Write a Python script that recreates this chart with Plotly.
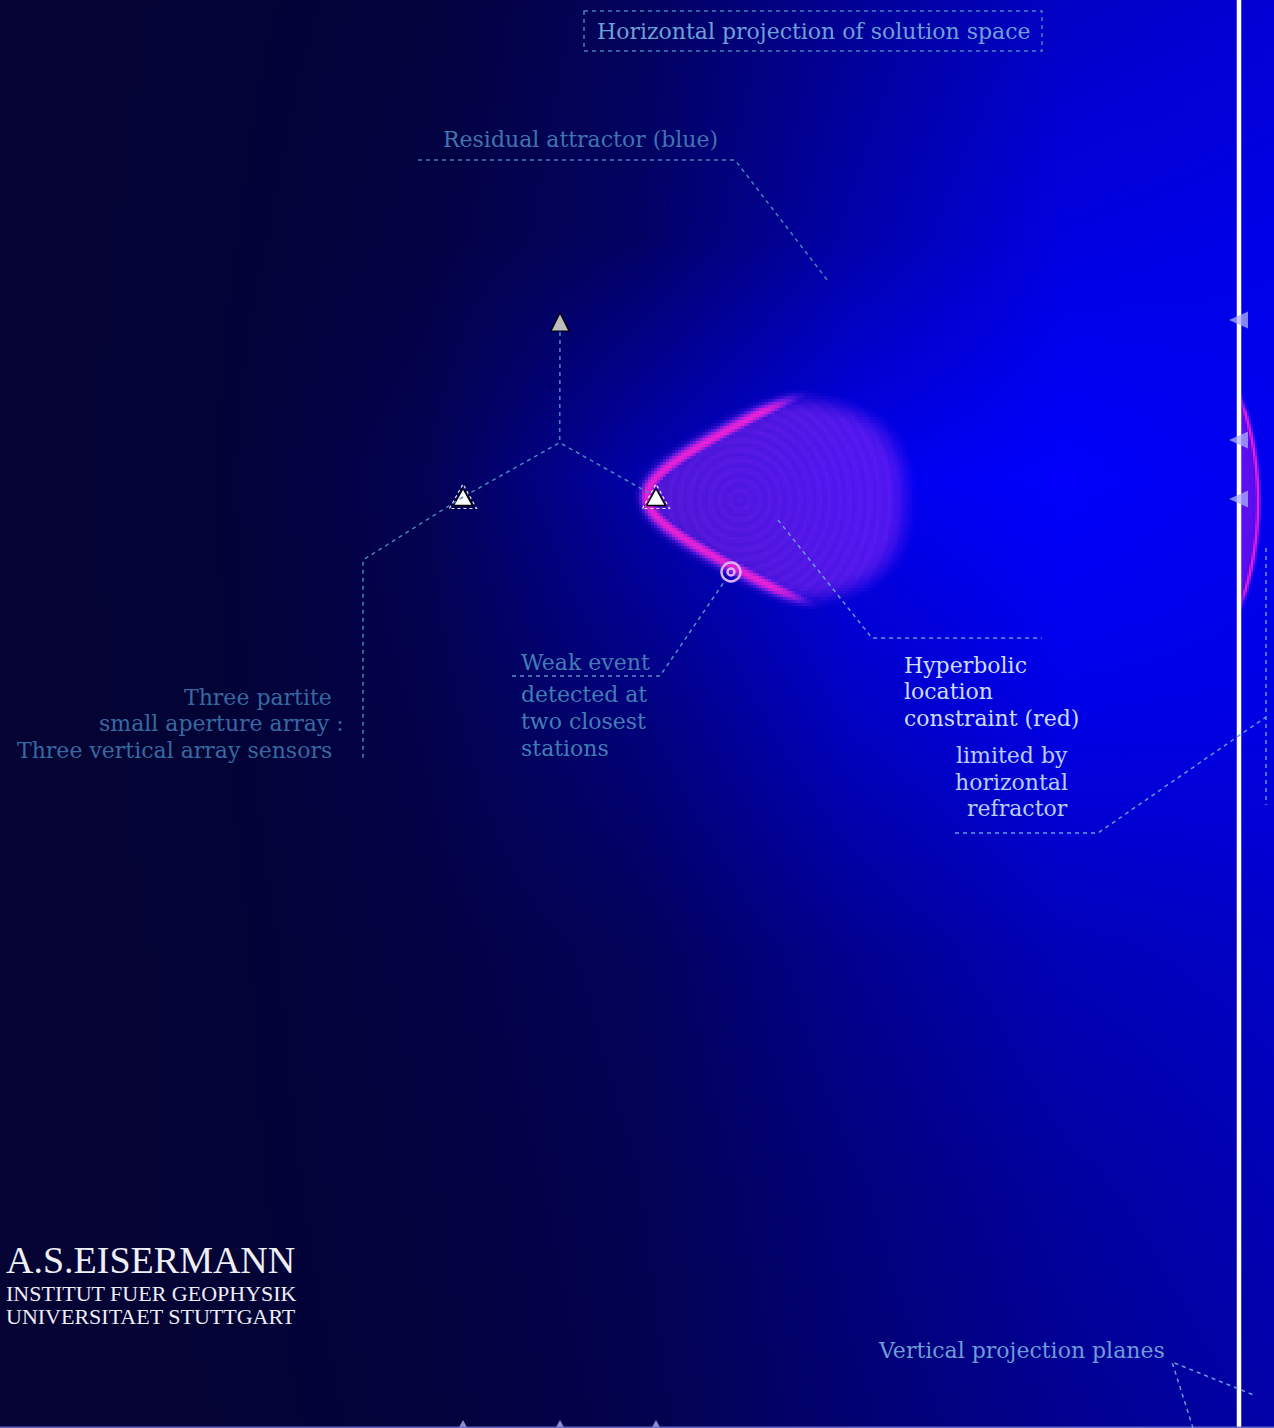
import numpy as np
import plotly.graph_objects as go

W, H = 1274, 1428

# ---------------- data ----------------
# stations of the three-partite array (horizontal plane)
station_x = [463, 656, 560]
station_y = [497, 497, 322]
# vertical array sensors, projected on the vertical plane
plane_x = 1239
sensor_plane_y = [320, 440, 499]
# weak event epicentre
event_x = [731]
event_y = [572]
# hyperbolic constraint: distance difference between the two closest stations
delta_d = 175
# background residual level (blue intensity) sampled on a coarse grid
bg_x = [0, 212, 425, 637, 850, 1062, 1274]
bg_y = [0, 238, 476, 714, 952, 1190, 1428]
bg_blue = [
    [52, 55, 64, 95, 150, 198, 212],
    [52, 56, 70, 102, 170, 225, 232],
    [52, 57, 86, 172, 236, 252, 238],
    [52, 56, 78, 125, 195, 230, 228],
    [52, 55, 70, 92, 145, 185, 198],
    [52, 55, 66, 85, 125, 160, 182],
    [52, 54, 63, 80, 115, 145, 168],
]

fig = go.Figure()

# background residual field
fig.add_trace(go.Heatmap(
    x=bg_x, y=bg_y, z=bg_blue, zmin=40, zmax=255, zsmooth="best",
    colorscale=[[0, "rgb(6,5,42)"], [0.1, "rgb(3,2,58)"], [1, "rgb(0,0,255)"]],
    showscale=False, hoverinfo="skip"))

# hyperbolic location constraint (horizontal projection)
ax, ay = station_x[0], station_y[0]
bx, by = station_x[1], station_y[1]
gx = np.arange(630, 945, 3) + 1.5
gy = np.arange(372, 633, 3) + 1.5
X, Y = np.meshgrid(gx, gy)
d1 = np.hypot(X - ax, Y - ay)
d2 = np.hypot(X - bx, Y - by)
h = d1 - d2 - delta_d
grad = np.hypot((X - ax) / d1 - (X - bx) / d2, (Y - ay) / d1 - (Y - by) / d2)
hp = h / np.maximum(grad, 0.05)
E = (np.maximum(X - 780, 0) / 140) ** 2.5 + (np.abs(Y - 500) / 113) ** 2.5
env = np.clip((1 - E) / 0.5, 0, 1)
env = env * env * (3 - 2 * env)
band = np.exp(-(hp / 7.0) ** 2)
fill = 0.45 / (1 + np.exp(-hp / 3.0))
rr = np.hypot(X - 740, Y - 500)
fill = fill * (0.95 + 0.05 * np.cos(2 * np.pi * rr / 10))
Z = np.maximum(band * env, fill * env)
fig.add_trace(go.Heatmap(
    x=gx, y=gy, z=Z, zmin=0, zmax=1, zsmooth=False,
    colorscale=[[0, "rgba(120,30,240,0)"], [0.45, "rgba(140,40,245,0.62)"],
                [0.7, "rgba(205,35,230,0.8)"], [1, "rgba(245,35,215,0.95)"]],
    showscale=False, hoverinfo="skip"))

# constraint on the vertical projection plane
cx, cy, cr = 943, 502, 315
gx2 = np.arange(1241, 1275, 2) + 1
gy2 = np.arange(380, 628, 2) + 1
X2, Y2 = np.meshgrid(gx2, gy2)
r2 = np.hypot(X2 - cx, Y2 - cy)
band2 = np.exp(-((r2 - cr) / 2.5) ** 2)
fill2 = 0.5 / (1 + np.exp((r2 - cr) / 1.5))
env2 = np.clip((1 - (np.abs(Y2 - cy) / 112) ** 2) / 0.35, 0, 1)
Z2 = np.maximum(band2, fill2) * env2
fig.add_trace(go.Heatmap(
    x=gx2, y=gy2, z=Z2, zmin=0, zmax=1, zsmooth=False,
    colorscale=[[0, "rgba(120,30,240,0)"], [0.5, "rgba(130,20,240,0.7)"],
                [1, "rgba(250,30,215,0.97)"]],
    showscale=False, hoverinfo="skip"))

# vertical projection plane (white edge)
fig.add_trace(go.Scatter(
    x=[plane_x, plane_x], y=[0, H], mode="lines",
    line=dict(color="white", width=4.5), hoverinfo="skip", showlegend=False))


def tri_up(xs, ys, hw, top, bot):
    px, py = [], []
    for x, y in zip(xs, ys):
        px += [x - hw, x, x + hw, x - hw, None]
        py += [y + bot, y - top, y + bot, y + bot, None]
    return px, py


def tri_left(xs, ys, tip, base, hh):
    px, py = [], []
    for x, y in zip(xs, ys):
        px += [x - tip, x + base, x + base, x - tip, None]
        py += [y, y - hh, y + hh, y, None]
    return px, py


# array geometry (hub at centroid)
hub_x = sum(station_x) / 3
hub_y = sum(station_y) / 3 + 4
line_style = dict(color="rgba(75,135,190,0.95)", width=1.6, dash="4px,4px")
fig.add_trace(go.Scatter(
    x=[station_x[1], hub_x, station_x[0], None, station_x[2], hub_x],
    y=[station_y[1], hub_y, station_y[0], None, station_y[2] + 10, hub_y],
    mode="lines", line=line_style, hoverinfo="skip", showlegend=False))

# station projections on the vertical plane
px, py = tri_left([plane_x] * len(sensor_plane_y), sensor_plane_y, 10, 9, 8.5)
fig.add_trace(go.Scatter(
    x=px, y=py, mode="lines", fill="toself", fillcolor="rgba(175,175,255,0.75)",
    line=dict(width=0, color="rgba(0,0,0,0)"), hoverinfo="skip", showlegend=False))
# station projections on the bottom plane
px, py = tri_up(station_x, [H] * 3, 5.5, 8, 2)
fig.add_trace(go.Scatter(
    x=px, y=py, mode="lines", fill="toself", fillcolor="rgba(165,165,230,0.85)",
    line=dict(width=0, color="rgba(0,0,0,0)"), hoverinfo="skip", showlegend=False))

# stations: dashed outline, filled triangles
px, py = tri_up(station_x[:2], station_y[:2], 13.5, 13, 11.5)
fig.add_trace(go.Scatter(
    x=px, y=py, mode="lines",
    line=dict(color="rgba(255,255,255,0.9)", width=1.2, dash="3px,3px"),
    hoverinfo="skip", showlegend=False))
px, py = tri_up(station_x[:2], station_y[:2], 9.5, 8.5, 8.5)
fig.add_trace(go.Scatter(
    x=px, y=py, mode="lines", fill="toself", fillcolor="white",
    line=dict(color="black", width=1.5), hoverinfo="skip", showlegend=False))
px, py = tri_up(station_x[2:], station_y[2:], 9, 9, 9)
fig.add_trace(go.Scatter(
    x=px, y=py, mode="lines", fill="toself", fillcolor="rgb(190,190,190)",
    line=dict(color="black", width=1.2), hoverinfo="skip", showlegend=False))

# event
fig.add_trace(go.Scatter(
    x=event_x * 2, y=event_y * 2, mode="markers",
    marker=dict(symbol="circle-open", size=[19, 7], color="rgb(220,175,255)",
                opacity=1, line=dict(color="rgb(220,175,255)", width=2.4)),
    hoverinfo="skip", showlegend=False))

# ---------------- decorations ----------------
dash_col = "rgba(75,135,190,0.95)"
lite_col = "rgba(110,160,220,0.95)"
shapes = [
    dict(type="line", x0=0, x1=W, y0=H - 0.5, y1=H - 0.5,
         line=dict(color="rgba(110,110,210,0.9)", width=2)),
    dict(type="rect", x0=584, y0=11, x1=1042, y1=51,
         line=dict(color=dash_col, width=1.5, dash="4px,4px")),
    dict(type="path", path="M 418,160 L 735,160 L 828,281",
         line=dict(color=dash_col, width=1.5, dash="4px,4px")),
    dict(type="path", path="M 463,497 L 363,560 L 363,760",
         line=dict(color=dash_col, width=1.5, dash="4px,4px")),
    dict(type="path", path="M 512,676 L 660,676 L 724,582",
         line=dict(color="rgba(90,150,205,0.95)", width=1.5, dash="4px,4px")),
    dict(type="path", path="M 778,520 L 872,638 L 1042,638",
         line=dict(color=lite_col, width=1.5, dash="4px,4px")),
    dict(type="path", path="M 955,833 L 1098,833 L 1266,717",
         line=dict(color=lite_col, width=1.5, dash="4px,4px")),
    dict(type="line", x0=1266, x1=1266, y0=548, y1=805,
         line=dict(color=lite_col, width=1.5, dash="4px,4px")),
    dict(type="path", path="M 1193,1428 L 1172,1362 L 1256,1396",
         line=dict(color=lite_col, width=1.5, dash="4px,4px")),
]

SER = "DejaVu Serif"
ann = []


def txt(x, y, s, color, size=22, xanchor="left", font=SER):
    ann.append(dict(x=x, y=y, text=s, showarrow=False, xanchor=xanchor,
                    yanchor="middle", font=dict(family=font, size=size, color=color)))


txt(814, 31, "Horizontal projection of solution space", "rgb(110,160,215)", xanchor="center")
txt(580, 139, "Residual attractor (blue)", "rgb(65,115,175)", xanchor="center")
c3 = "rgb(55,105,160)"
txt(334, 697, "Three partite", c3, xanchor="right")
txt(346, 723, "small aperture array :", c3, xanchor="right")
txt(334, 750, "Three vertical array sensors", c3, xanchor="right")
cw = "rgb(65,125,180)"
txt(519, 662, "Weak event", cw)
txt(519, 694, "detected at", cw)
txt(519, 721, "two closest", cw)
txt(519, 748, "stations", cw)
ch = "rgb(205,220,255)"
txt(902, 665, "Hyperbolic", ch)
txt(902, 691, "location", ch)
txt(902, 718, "constraint (red)", ch)
cl = "rgb(185,205,250)"
txt(1070, 755, "limited by", cl, xanchor="right")
txt(1070, 782, "horizontal", cl, xanchor="right")
txt(1070, 808, "refractor", cl, xanchor="right")
txt(1021, 1350, "Vertical projection planes", "rgb(110,155,215)", xanchor="center")
cwh = "rgb(238,238,245)"
txt(4, 1260, "A.S.EISERMANN", cwh, size=38, font="Liberation Serif")
txt(4, 1293, "INSTITUT FUER GEOPHYSIK", cwh, size=22, font="Liberation Serif")
txt(4, 1316, "UNIVERSITAET STUTTGART", cwh, size=22, font="Liberation Serif")

fig.update_layout(
    width=W, height=H, margin=dict(l=0, r=0, t=0, b=0),
    paper_bgcolor="rgb(4,3,45)", plot_bgcolor="rgb(4,3,45)",
    xaxis=dict(range=[0, W], visible=False, fixedrange=True),
    yaxis=dict(range=[H, 0], visible=False, fixedrange=True),
    showlegend=False, shapes=shapes, annotations=ann,
)

fig.write_html("out.html", config={"displayModeBar": False})
